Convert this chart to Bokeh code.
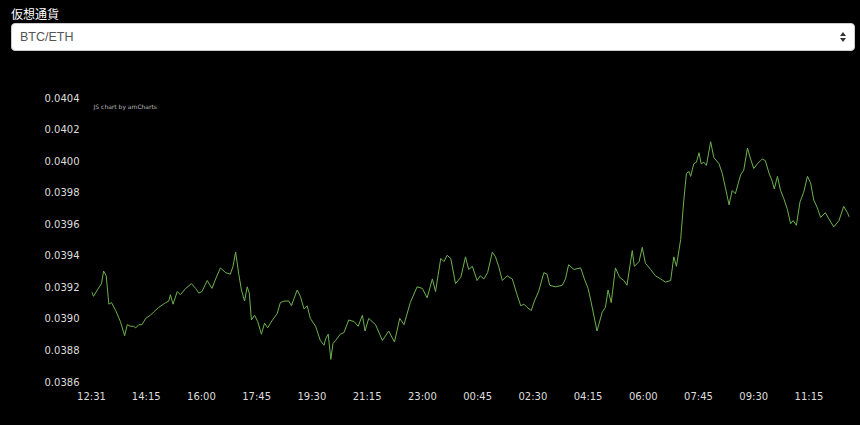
from bokeh.plotting import figure
from bokeh.models import (Range1d, FixedTicker, PrintfTickFormatter, Label, Div)
from bokeh.layouts import column
from bokeh.embed import file_html
from bokeh.resources import INLINE

# ---------------- data ----------------
start_time = "12:31"
select_label = "仮想通貨"
pair_name = "BTC/ETH"

# minutes elapsed since 12:31
minutes = [
    0, 4, 11, 19, 23, 28, 33, 38, 46, 55,
    63, 68, 74, 80, 84, 90, 96, 103, 112, 118,
    128, 141, 147, 150, 155, 163, 169, 179, 190, 198,
    204, 210, 220, 229, 236, 245, 255, 264, 269, 274,
    280, 285, 291, 296, 300, 304, 310, 316, 323, 329,
    335, 344, 353, 359, 366, 375, 380, 391, 397, 404,
    410, 416, 426, 435, 442, 445, 450, 455, 459, 464,
    473, 480, 489, 499, 507, 515, 520, 527, 540, 553,
    565, 576, 586, 594, 606, 619, 629, 638, 648, 654,
    664, 670, 676, 683, 692, 702, 711, 717, 724, 733,
    739, 746, 753, 762, 768, 774, 781, 790, 800, 809,
    816, 822, 828, 836, 842, 850, 860, 866, 871, 882,
    895, 901, 907, 917, 930, 937, 944, 950, 961, 971,
    977, 982, 988, 996, 1004, 1012, 1018, 1028, 1032, 1041,
    1047, 1053, 1063, 1072, 1082, 1091, 1101, 1107, 1112, 1120,
    1126, 1131, 1136, 1139, 1145, 1150, 1155, 1159, 1164, 1169,
    1177, 1183, 1193, 1199, 1205, 1212, 1218, 1224, 1234, 1240,
    1247, 1253, 1259, 1266, 1272, 1275, 1281, 1288, 1294, 1298,
    1304, 1310, 1316, 1323, 1329, 1334, 1340, 1347, 1354, 1361,
    1367, 1373, 1380, 1386, 1395, 1402, 1411, 1421, 1430, 1437,
    1441,
]

rates = [
    0.03917, 0.03914, 0.03918, 0.03922, 0.03930, 0.03927, 0.03909, 0.03910, 0.03905, 0.03898,
    0.03889, 0.03896, 0.03895, 0.03895, 0.03894, 0.03896, 0.03896, 0.03900, 0.03902, 0.03904,
    0.03907, 0.03910, 0.03911, 0.03915, 0.03909, 0.03917, 0.03915, 0.03919, 0.03922, 0.03919,
    0.03916, 0.03917, 0.03924, 0.03919, 0.03925, 0.03932, 0.03929, 0.03928, 0.03933, 0.03942,
    0.03928, 0.03918, 0.03911, 0.03920, 0.03916, 0.03899, 0.03902, 0.03898, 0.03890, 0.03897,
    0.03894, 0.03899, 0.03903, 0.03910, 0.03911, 0.03911, 0.03908, 0.03918, 0.03914, 0.03906,
    0.03908, 0.03900, 0.03895, 0.03886, 0.03883, 0.03887, 0.03890, 0.03874, 0.03884, 0.03886,
    0.03890, 0.03891, 0.03899, 0.03898, 0.03895, 0.03902, 0.03892, 0.03900, 0.03896, 0.03886,
    0.03892, 0.03885, 0.03900, 0.03896, 0.03910, 0.03920, 0.03919, 0.03913, 0.03925, 0.03917,
    0.03938, 0.03936, 0.03940, 0.03938, 0.03922, 0.03926, 0.03939, 0.03931, 0.03933, 0.03924,
    0.03927, 0.03925, 0.03929, 0.03942, 0.03939, 0.03933, 0.03924, 0.03927, 0.03925, 0.03915,
    0.03908, 0.03909, 0.03907, 0.03905, 0.03911, 0.03917, 0.03929, 0.03928, 0.03921, 0.03920,
    0.03921, 0.03925, 0.03934, 0.03931, 0.03932, 0.03925, 0.03919, 0.03910, 0.03892, 0.03904,
    0.03907, 0.03918, 0.03910, 0.03932, 0.03926, 0.03924, 0.03921, 0.03943, 0.03933, 0.03936,
    0.03945, 0.03935, 0.03931, 0.03927, 0.03925, 0.03923, 0.03924, 0.03939, 0.03933, 0.03950,
    0.03975, 0.03992, 0.03993, 0.03990, 0.03998, 0.03999, 0.04005, 0.03998, 0.03999, 0.03997,
    0.04012, 0.04002, 0.03998, 0.03992, 0.03983, 0.03972, 0.03981, 0.03979, 0.03991, 0.03994,
    0.04008, 0.04001, 0.03995, 0.03998, 0.04000, 0.04001, 0.04000, 0.03992, 0.03987, 0.03982,
    0.03990, 0.03981, 0.03976, 0.03969, 0.03960, 0.03962, 0.03959, 0.03974, 0.03980, 0.03990,
    0.03986, 0.03975, 0.03970, 0.03964, 0.03967, 0.03963, 0.03958, 0.03962, 0.03971, 0.03967,
    0.03964,
]

x_tick_labels = ["12:31", "14:15", "16:00", "17:45", "19:30", "21:15", "23:00",
                 "00:45", "02:30", "04:15", "06:00", "07:45", "09:30", "11:15"]
y_ticks = [0.0386, 0.0388, 0.0390, 0.0392, 0.0394, 0.0396, 0.0398, 0.0400, 0.0402, 0.0404]


def to_min(hhmm):
    h, m = hhmm.split(":")
    return int(h) * 60 + int(m)


t0 = to_min(start_time)
x_ticks = [(to_min(s) - t0) % 1440 for s in x_tick_labels]

# ---------------- header (label + select box) ----------------
header_html = f"""
<div style="position:relative;width:850px;height:48px;background:#000000;">
  <div style="position:absolute;left:3px;top:-1px;font-family:'Noto Sans CJK JP';font-size:12px;line-height:14px;color:#ffffff;white-space:nowrap;">{select_label}</div>
  <div style="position:absolute;left:3px;top:15px;box-sizing:border-box;width:844px;height:28px;background:#ffffff;border:1px solid #cccccc;border-radius:4px;">
    <span style="position:absolute;left:8px;top:6px;font-family:'Liberation Sans';font-size:12.5px;line-height:14px;color:#555555;white-space:nowrap;">{pair_name}</span>
    <span style="position:absolute;left:828px;top:8px;width:0;height:0;border-left:3px solid transparent;border-right:3px solid transparent;border-bottom:4px solid #333333;"></span>
    <span style="position:absolute;left:828px;top:14px;width:0;height:0;border-left:3px solid transparent;border-right:3px solid transparent;border-top:4px solid #333333;"></span>
  </div>
</div>
"""
header = Div(text=header_html, width=850, height=48, margin=0)

# ---------------- chart ----------------
p = figure(width=850, height=360, output_backend="svg", toolbar_location=None,
           x_range=Range1d(0, minutes[-1]), y_range=Range1d(y_ticks[0], y_ticks[-1]),
           min_border_left=83, min_border_right=9, min_border_top=41, min_border_bottom=35,
           background_fill_color="#000000", border_fill_color="#000000", margin=0)
p.outline_line_color = None
p.outline_line_alpha = 0

p.line(minutes, rates, line_color="#6db150", line_width=1)

p.xgrid.visible = False
p.ygrid.visible = False

for ax in (p.xaxis[0], p.yaxis[0]):
    ax.axis_line_color = None
    ax.major_tick_line_color = None
    ax.minor_tick_line_color = None
    ax.major_tick_out = 0
    ax.major_tick_in = 0
    ax.major_label_text_color = "#dddddd"
    ax.major_label_text_font = "DejaVu Sans"
    ax.major_label_text_font_size = "10px"

p.xaxis[0].ticker = FixedTicker(ticks=x_ticks)
p.xaxis[0].major_label_overrides = {t: s for t, s in zip(x_ticks, x_tick_labels)}
p.xaxis[0].major_label_standoff = 9

p.yaxis[0].ticker = FixedTicker(ticks=y_ticks)
p.yaxis[0].formatter = PrintfTickFormatter(format="%.4f")
p.yaxis[0].major_label_standoff = 12

credit = Label(x=4, y=0.04034, text="JS chart by amCharts", text_color="#b8b8b8",
               text_font="DejaVu Sans", text_font_size="6px", text_baseline="middle")
p.add_layout(credit)

layout = column(header, p, spacing=0, margin=(8, 0, 0, 8))

html = file_html(layout, INLINE)
i = html.rfind("<body")
html = html[:i] + "<body style=\"background-color:#000000\"" + html[i + len("<body"):]
open("out.html", "w").write(html)
